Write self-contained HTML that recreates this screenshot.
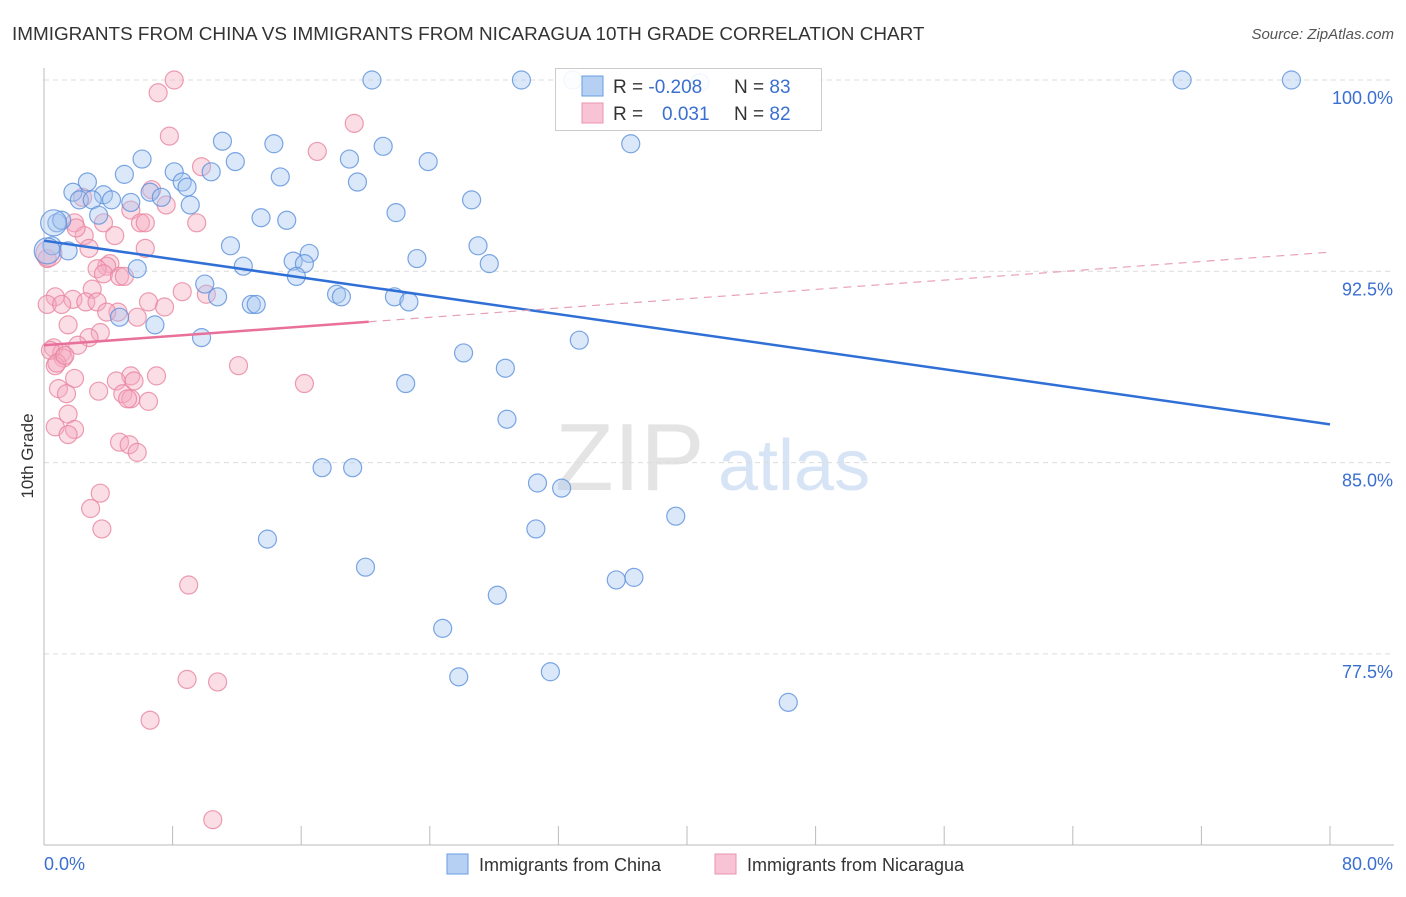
<!DOCTYPE html>
<html><head><meta charset="utf-8"><style>
body{margin:0;background:#fff;font-family:"Liberation Sans",sans-serif;}
svg text{font-family:"Liberation Sans",sans-serif;}
</style></head><body>
<svg id="chart" width="1406" height="892" xmlns="http://www.w3.org/2000/svg">
<text x="12" y="40" font-size="18.9" fill="#333">IMMIGRANTS FROM CHINA VS IMMIGRANTS FROM NICARAGUA 10TH GRADE CORRELATION CHART</text>
<text x="1394" y="39" font-size="15" fill="#555" font-style="italic" text-anchor="end">Source: ZipAtlas.com</text>
<text x="33" y="456" font-size="17" fill="#333" text-anchor="middle" transform="rotate(-90 33 456)">10th Grade</text>
<g><text x="555" y="490" font-size="96" fill="#e4e4e4" font-family="Liberation Serif">ZIP</text><text x="718" y="490" font-size="72" fill="#d6e4f5">atlas</text></g>
<g id="grid"></g><g id="axes"></g><g id="pts"></g><g id="lines"></g>
<g>
<rect x="555.5" y="68.5" width="266" height="62" fill="#fff" fill-opacity="0.9" stroke="#ccc"/>
<rect x="582" y="76" width="21" height="20" fill="#b5d0f3" stroke="#6a9ee0"/>
<rect x="582" y="103" width="21" height="20" fill="#f8c3d4" stroke="#e895b0"/>
<text x="613" y="93" font-size="19" fill="#333">R = <tspan fill="#3a6fd0">-0.208</tspan></text>
<text x="734" y="93" font-size="19" fill="#333">N = <tspan fill="#3a6fd0">83</tspan></text>
<text x="613" y="120" font-size="19" fill="#333">R = <tspan fill="#3a6fd0" x="662">0.031</tspan></text>
<text x="734" y="120" font-size="19" fill="#333">N = <tspan fill="#3a6fd0">82</tspan></text>
</g>
<g>
<rect x="447" y="854" width="21" height="20" fill="#b5d0f3" stroke="#6a9ee0"/>
<text x="479" y="871" font-size="18" fill="#333">Immigrants from China</text>
<rect x="715" y="854" width="21" height="20" fill="#f8c3d4" stroke="#e895b0"/>
<text x="747" y="871" font-size="18" fill="#333">Immigrants from Nicaragua</text>
</g>
</svg>
<script>
const yTicks=[100,92.5,85,77.5];
const yTickLabels=["100.0%","92.5%","85.0%","77.5%"];
const xLabels=["0.0%","80.0%"];
const chinaX=[20.4,29.7,32.9,70.8,77.6,40.8,11.1,14.3,21.1,36.5,6.1,11.9,19.0,23.9,5.0,8.1,14.7,19.5,10.4,2.7,8.6,8.9,1.8,3.7,4.2,2.2,3.0,5.4,6.6,7.3,9.1,26.6,3.4,13.5,15.1,21.9,0.8,1.1,0.5,1.5,11.6,16.5,27.0,5.8,12.4,15.5,16.2,23.2,27.7,15.7,10.0,10.8,12.9,13.2,18.2,18.5,21.8,22.7,4.7,6.9,9.8,33.3,26.1,28.7,22.5,28.8,17.3,19.2,30.7,32.2,39.3,30.6,13.9,20.0,35.6,36.7,28.2,24.8,25.8,31.5,46.3,0.2,0.6];
const chinaY=[100,100,100,100,100,99.9,97.6,97.5,97.4,97.5,96.9,96.8,96.9,96.8,96.3,96.4,96.2,96.0,96.4,96.0,96.0,95.8,95.6,95.5,95.3,95.3,95.3,95.2,95.6,95.4,95.1,95.3,94.7,94.6,94.5,94.8,94.4,94.5,93.5,93.3,93.5,93.2,93.5,92.6,92.7,92.9,92.8,93.0,92.8,92.3,92.0,91.5,91.2,91.2,91.6,91.5,91.5,91.3,90.7,90.4,89.9,89.8,89.3,88.7,88.1,86.7,84.8,84.8,84.2,84.0,82.9,82.4,82.0,80.9,80.4,80.5,79.8,78.5,76.6,76.8,75.6,93.3,94.4];
const nicX=[8.1,7.1,19.3,7.8,17.0,9.8,6.7,2.4,7.6,5.4,1.9,3.7,6.0,6.3,9.5,2.5,4.4,2.8,6.3,0.2,4.1,3.9,3.3,3.7,4.7,5.0,3.0,8.6,10.1,0.7,1.8,2.6,3.3,6.5,0.2,1.1,4.6,3.9,5.8,7.5,1.5,3.5,2.8,2.1,0.6,1.1,1.2,0.7,12.1,7.0,5.4,1.9,4.5,5.6,16.2,0.9,3.4,4.9,1.4,5.4,5.2,6.5,1.5,0.7,1.9,1.5,4.7,5.3,5.8,3.5,2.9,3.6,9.0,8.9,10.8,6.6,10.5,0.4,0.8,1.3,2.0,0.3];
const nicY=[100,99.5,98.3,97.8,97.2,96.6,95.7,95.4,95.1,94.9,94.4,94.4,94.4,94.4,94.4,93.9,93.9,93.4,93.4,93.0,92.8,92.7,92.6,92.4,92.3,92.3,91.8,91.7,91.6,91.5,91.4,91.3,91.3,91.3,91.2,91.2,90.9,90.9,90.7,91.1,90.4,90.1,89.9,89.6,89.5,89.3,89.1,88.8,88.8,88.4,88.4,88.3,88.2,88.2,88.1,87.9,87.8,87.7,87.7,87.5,87.5,87.4,86.9,86.4,86.3,86.1,85.8,85.7,85.4,83.8,83.2,82.4,80.2,76.5,76.4,74.9,71.0,89.4,88.9,89.2,94.2,93.2];
const chinaTrend=[93.7,86.5];
const nicTrend=[89.6,93.25];
const nicSolidEnd=20.2;

const X0=44,X1=1330;
const sx=v=>X0+(v/80)*(X1-X0);
const sy=v=>80+(100-v)*(191.3/7.5);
const NS="http://www.w3.org/2000/svg";
function mk(tag,attrs,parent){const e=document.createElementNS(NS,tag);for(const k in attrs)e.setAttribute(k,attrs[k]);document.getElementById(parent).appendChild(e);return e;}

yTicks.forEach((t,i)=>{
  const g=mk('line',{x1:X0,x2:1394,y1:sy(t),y2:sy(t),stroke:'#dcdcdc','stroke-dasharray':'5,4'},'grid');
  
  
  const l=mk('text',{x:1393,y:sy(t)+24,'font-size':18,fill:'#3a6fd0','text-anchor':'end'},'grid');
  l.textContent=yTickLabels[i];
  
  
});
let a=mk('line',{x1:X0,x2:X0,y1:68,y2:845,stroke:'#bbb'},'axes');


a=mk('line',{x1:X0,x2:1394,y1:845,y2:845,stroke:'#bbb'},'axes');


for(let k=1;k<=10;k++){
  const x=X0+k*(X1-X0)/10;
  const t=mk('line',{x1:x,x2:x,y1:826,y2:845,stroke:'#bbb'},'axes');
  
  
}
[[X0,'start',0],[1393,'end',1]].forEach(([x,anc,i])=>{
  const t=mk('text',{x:x,y:870,'font-size':18,fill:'#3a6fd0','text-anchor':anc},'axes');
  t.textContent=xLabels[i];
  
  
});
function pts(xs,ys,fill,stroke,name){
  xs.forEach((x,i)=>{
    const big=(x<0.7&&i>=xs.length-2);
    const c=mk('circle',{cx:sx(x),cy:sy(ys[i]),r:big?13:9,fill:fill,'fill-opacity':0.4,stroke:stroke,'stroke-width':1.2,'stroke-opacity':0.8},'pts');
    
    
  });
}
pts(nicX,nicY,'#f5a9c0','#e8849f','nicaragua-point');
pts(chinaX,chinaY,'#a6c6f0','#5b90dc','china-point');
let ln=mk('line',{x1:sx(0),y1:sy(chinaTrend[0]),x2:sx(80),y2:sy(chinaTrend[1]),stroke:'#2f6fd6','stroke-width':2.5},'lines');


const ny=v=>nicTrend[0]+(nicTrend[1]-nicTrend[0])*v/80;
ln=mk('line',{x1:sx(0),y1:sy(ny(0)),x2:sx(nicSolidEnd),y2:sy(ny(nicSolidEnd)),stroke:'#e8709a','stroke-width':2.5},'lines');


ln=mk('line',{x1:sx(nicSolidEnd),y1:sy(ny(nicSolidEnd)),x2:sx(80),y2:sy(ny(80)),stroke:'#e8a0b8','stroke-width':1.2,'stroke-dasharray':'8,6'},'lines');


</script>
</body></html>
